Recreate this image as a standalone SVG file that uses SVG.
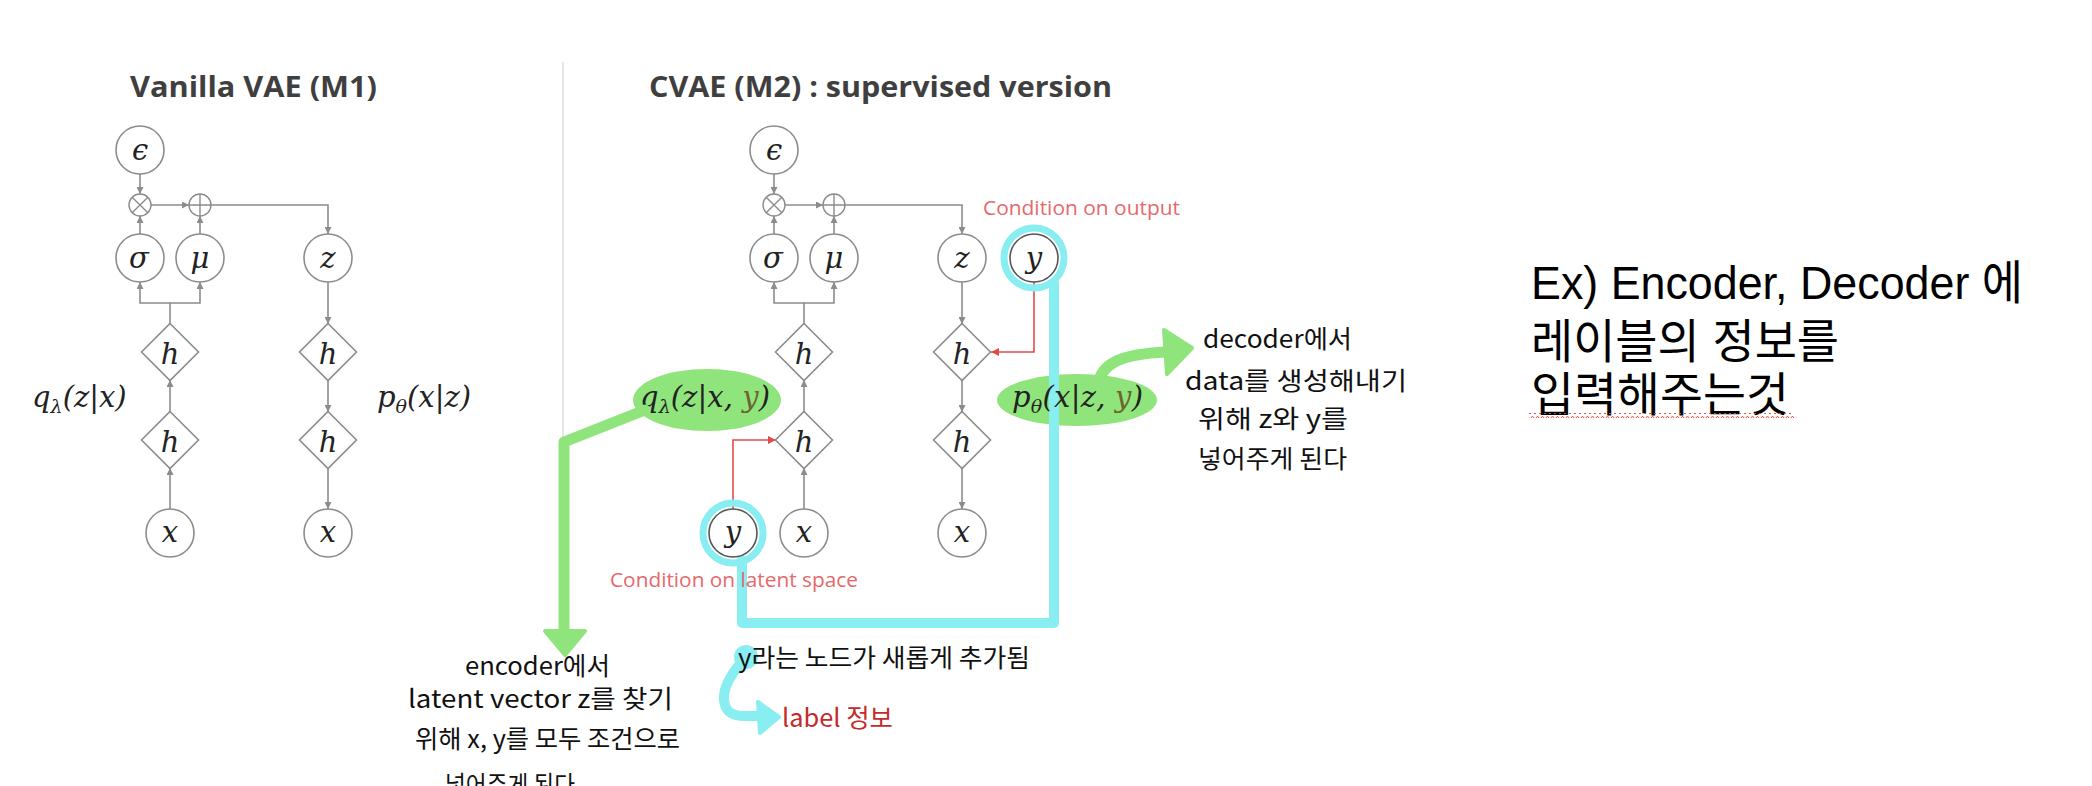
<svg xmlns="http://www.w3.org/2000/svg" width="2092" height="786" viewBox="0 0 2092 786">
<defs>
<style>
.node{fill:#fff;stroke:#8c8c8c;stroke-width:1.6}
.op{fill:#fff;stroke:#8c8c8c;stroke-width:1.4}
.opl{stroke:#8c8c8c;stroke-width:1.4}
.con{fill:none;stroke:#8c8c8c;stroke-width:1.6}
.red{fill:none;stroke:#e24b4b;stroke-width:1.6}
.lbl{font-family:"DejaVu Serif","Liberation Serif",serif;font-style:italic;font-size:29px;fill:#222;text-anchor:middle}
.math{font-family:"DejaVu Serif","Liberation Serif",serif;font-style:italic;font-size:29px;fill:#222}
.sub{font-size:19px}
.title{font-family:"Open Sans","Noto Sans",sans-serif;font-weight:bold;font-size:28px;fill:#3f3f3f}
.cond{font-family:"Open Sans","Noto Sans",sans-serif;font-size:20px;fill:#e5696b}
.hand{font-family:"Noto Sans CJK KR","Noto Sans",sans-serif;font-size:25px;fill:#111}
.big{font-family:"Liberation Sans","Noto Sans CJK KR",sans-serif;font-size:47px;fill:#000}
.cyan{fill:none;stroke:#88eef1;stroke-linecap:round;stroke-linejoin:round}
.green{fill:none;stroke:#8fe57c;stroke-linecap:round;stroke-linejoin:round}
</style>
<marker id="ag" viewBox="0 0 10 10" refX="10" refY="5" markerWidth="7" markerHeight="7" markerUnits="userSpaceOnUse" orient="auto"><path d="M0 0 L10 5 L0 10 z" fill="#8c8c8c"/></marker>
<marker id="ar" viewBox="0 0 10 10" refX="10" refY="5" markerWidth="8" markerHeight="8" markerUnits="userSpaceOnUse" orient="auto"><path d="M0 0 L10 5 L0 10 z" fill="#e24b4b"/></marker>
<pattern id="sq" width="5" height="5" patternUnits="userSpaceOnUse"><path d="M0 4 L2.5 1.2 L5 4" fill="none" stroke="#e0443a" stroke-width="1"/></pattern>
</defs>
<rect width="2092" height="786" fill="#fff"/>

<!-- divider -->
<line x1="563" y1="62" x2="563" y2="600" stroke="#dcdcdc" stroke-width="1.5"/>

<!-- titles -->
<text class="title" x="130" y="97" textLength="247" lengthAdjust="spacingAndGlyphs">Vanilla VAE (M1)</text>
<text class="title" x="649" y="97" textLength="463" lengthAdjust="spacingAndGlyphs">CVAE (M2) : supervised version</text>

<!-- highlights (behind) -->
<g id="highlights">
<ellipse cx="707" cy="400" rx="74" ry="31" fill="#8fe57c"/>
<ellipse cx="1077" cy="400" rx="80" ry="26" fill="#8fe57c"/>
</g>

<!-- connectors -->
<g id="connectors">
<path class="con" d="M140 174 V194" marker-end="url(#ag)"/>
<path class="con" d="M140 234 V216" marker-end="url(#ag)"/>
<path class="con" d="M200 234 V216" marker-end="url(#ag)"/>
<path class="con" d="M151 205 H189" marker-end="url(#ag)"/>
<path class="con" d="M211 205 H328 V234" marker-end="url(#ag)"/>
<path class="con" d="M170 324 V303 H140 V282" marker-end="url(#ag)"/>
<path class="con" d="M170 303 H200 V282" marker-end="url(#ag)"/>
<path class="con" d="M170 412 V380" marker-end="url(#ag)"/>
<path class="con" d="M170 509 V468" marker-end="url(#ag)"/>
<path class="con" d="M328 282 V324" marker-end="url(#ag)"/>
<path class="con" d="M328 380 V412" marker-end="url(#ag)"/>
<path class="con" d="M328 468 V509" marker-end="url(#ag)"/>
<path class="con" d="M774 174 V194" marker-end="url(#ag)"/>
<path class="con" d="M774 234 V216" marker-end="url(#ag)"/>
<path class="con" d="M834 234 V216" marker-end="url(#ag)"/>
<path class="con" d="M785 205 H823" marker-end="url(#ag)"/>
<path class="con" d="M845 205 H962 V234" marker-end="url(#ag)"/>
<path class="con" d="M804 324 V303 H774 V282" marker-end="url(#ag)"/>
<path class="con" d="M804 303 H834 V282" marker-end="url(#ag)"/>
<path class="con" d="M804 412 V380" marker-end="url(#ag)"/>
<path class="con" d="M804 509 V468" marker-end="url(#ag)"/>
<path class="con" d="M962 282 V324" marker-end="url(#ag)"/>
<path class="con" d="M962 380 V412" marker-end="url(#ag)"/>
<path class="con" d="M962 468 V509" marker-end="url(#ag)"/>
<path class="red" d="M1034 282 V352 H991" marker-end="url(#ar)"/>
<path class="red" d="M733 509 V440 H776" marker-end="url(#ar)"/>
</g>

<!-- vanilla nodes -->
<g id="v-eps"><circle class="node" cx="140" cy="150" r="24"/><text class="lbl" x="140" y="160">ϵ</text></g>
<g id="v-mul"><circle class="op" cx="140" cy="205" r="11"/><path class="opl" d="M132.2 197.2 L147.8 212.8 M147.8 197.2 L132.2 212.8"/></g>
<g id="v-add"><circle class="op" cx="200" cy="205" r="11"/><path class="opl" d="M189 205 H211 M200 194 V216"/></g>
<g id="v-sigma"><circle class="node" cx="140" cy="258" r="24"/><text class="lbl" x="139" y="268">σ</text></g>
<g id="v-mu"><circle class="node" cx="200" cy="258" r="24"/><text class="lbl" x="200" y="268">μ</text></g>
<g id="v-z"><circle class="node" cx="328" cy="258" r="24"/><text class="lbl" x="328" y="268">z</text></g>
<g id="v-h1"><path class="node" d="M170 323.5 L198.5 352 L170 380.5 L141.5 352 Z"/><text class="lbl" x="170" y="364">h</text></g>
<g id="v-h2"><path class="node" d="M170 411.5 L198.5 440 L170 468.5 L141.5 440 Z"/><text class="lbl" x="170" y="452">h</text></g>
<g id="v-x"><circle class="node" cx="170" cy="533" r="24"/><text class="lbl" x="170" y="542">x</text></g>
<g id="v-dh1"><path class="node" d="M328 323.5 L356.5 352 L328 380.5 L299.5 352 Z"/><text class="lbl" x="328" y="364">h</text></g>
<g id="v-dh2"><path class="node" d="M328 411.5 L356.5 440 L328 468.5 L299.5 440 Z"/><text class="lbl" x="328" y="452">h</text></g>
<g id="v-dx"><circle class="node" cx="328" cy="533" r="24"/><text class="lbl" x="328" y="542">x</text></g>
<g id="v-q"><text class="math" x="32" y="407">q<tspan class="sub" dy="6">λ</tspan><tspan dy="-6">(z|x)</tspan></text></g>
<g id="v-p"><text class="math" x="377" y="407">p<tspan class="sub" dy="6">θ</tspan><tspan dy="-6">(x|z)</tspan></text></g>

<!-- cyan annotation lines -->
<g id="cyan-annot">
<circle cx="1034" cy="258" r="30" fill="none" stroke="#88eef1" stroke-width="7"/>
<circle cx="733" cy="533" r="30" fill="none" stroke="#88eef1" stroke-width="7"/>
<path class="cyan" stroke-width="10" d="M1054 283 V623 H742 V560"/>
<circle cx="746" cy="657" r="12" fill="#88eef1"/>
<path class="cyan" stroke-width="10" d="M740 664 C730 676 723 688 724 700 C725 712 732 716 745 716 L762 716"/>
<path d="M758 702 L779 717 L760 733 Z" fill="#88eef1" stroke="#88eef1" stroke-width="4" stroke-linejoin="round"/>
</g>

<!-- cvae nodes -->
<g id="c-eps"><circle class="node" cx="774" cy="150" r="24"/><text class="lbl" x="774" y="160">ϵ</text></g>
<g id="c-mul"><circle class="op" cx="774" cy="205" r="11"/><path class="opl" d="M766.2 197.2 L781.8 212.8 M781.8 197.2 L766.2 212.8"/></g>
<g id="c-add"><circle class="op" cx="834" cy="205" r="11"/><path class="opl" d="M823 205 H845 M834 194 V216"/></g>
<g id="c-sigma"><circle class="node" cx="774" cy="258" r="24"/><text class="lbl" x="773" y="268">σ</text></g>
<g id="c-mu"><circle class="node" cx="834" cy="258" r="24"/><text class="lbl" x="834" y="268">μ</text></g>
<g id="c-z"><circle class="node" cx="962" cy="258" r="24"/><text class="lbl" x="962" y="268">z</text></g>
<g id="c-ytop"><circle class="node" cx="1034" cy="258" r="24" style="stroke:#555"/><text class="lbl" x="1034" y="268">y</text></g>
<g id="c-h1"><path class="node" d="M804 323.5 L832.5 352 L804 380.5 L775.5 352 Z"/><text class="lbl" x="804" y="364">h</text></g>
<g id="c-h2"><path class="node" d="M804 411.5 L832.5 440 L804 468.5 L775.5 440 Z"/><text class="lbl" x="804" y="452">h</text></g>
<g id="c-ybot"><circle class="node" cx="733" cy="533" r="24" style="stroke:#555"/><text class="lbl" x="733" y="542">y</text></g>
<g id="c-x"><circle class="node" cx="804" cy="533" r="24"/><text class="lbl" x="804" y="542">x</text></g>
<g id="c-dh1"><path class="node" d="M962 323.5 L990.5 352 L962 380.5 L933.5 352 Z"/><text class="lbl" x="962" y="364">h</text></g>
<g id="c-dh2"><path class="node" d="M962 411.5 L990.5 440 L962 468.5 L933.5 440 Z"/><text class="lbl" x="962" y="452">h</text></g>
<g id="c-dx"><circle class="node" cx="962" cy="533" r="24"/><text class="lbl" x="962" y="542">x</text></g>
<g id="c-q"><text class="math" x="640" y="407" textLength="130" lengthAdjust="spacing">q<tspan class="sub" dy="6">λ</tspan><tspan dy="-6">(z|x, </tspan><tspan fill="#6e6430">y</tspan>)</text></g>
<g id="c-p"><text class="math" x="1012" y="407" textLength="131" lengthAdjust="spacing">p<tspan class="sub" dy="6">θ</tspan><tspan dy="-6">(x|z, </tspan><tspan fill="#6e6430">y</tspan>)</text></g>

<text class="cond" x="983" y="215" textLength="197" lengthAdjust="spacingAndGlyphs">Condition on output</text>
<text class="cond" x="610" y="587" textLength="248" lengthAdjust="spacingAndGlyphs">Condition on latent space</text>

<!-- green annotation arrows -->
<g id="green-annot">
<path class="green" stroke-width="11" d="M645 410 L564 442 V630"/>
<path d="M545 631 L585 631 L565 655 Z" fill="#8fe57c" stroke="#8fe57c" stroke-width="4" stroke-linejoin="round"/>
<path class="green" stroke-width="11" d="M1098 386 C1100 364 1120 354 1166 352"/>
<path d="M1164 330 L1192 348 L1167 374 Z" fill="#8fe57c" stroke="#8fe57c" stroke-width="4" stroke-linejoin="round"/>
</g>

<!-- handwritten notes -->
<g id="note-encoder">
<text class="hand" x="465" y="675" textLength="145" lengthAdjust="spacingAndGlyphs">encoder에서</text>
<text class="hand" x="408" y="708" textLength="265" lengthAdjust="spacingAndGlyphs">latent vector z를 찾기</text>
<text class="hand" x="415" y="748" textLength="265" lengthAdjust="spacingAndGlyphs">위해  x, y를 모두 조건으로</text>
<text class="hand" x="445" y="794" textLength="130" lengthAdjust="spacingAndGlyphs">넣어주게 된다</text>
</g>
<g id="note-decoder">
<text class="hand" x="1203" y="348" textLength="149" lengthAdjust="spacingAndGlyphs">decoder에서</text>
<text class="hand" x="1185" y="390" textLength="222" lengthAdjust="spacingAndGlyphs">data를 생성해내기</text>
<text class="hand" x="1198" y="428" textLength="150" lengthAdjust="spacingAndGlyphs">위해 z와 y를</text>
<text class="hand" x="1198" y="468" textLength="149" lengthAdjust="spacingAndGlyphs">넣어주게 된다</text>
</g>
<g id="note-y">
<text class="hand" x="738" y="667" textLength="292" lengthAdjust="spacingAndGlyphs">y라는 노드가 새롭게 추가됨</text>
<text class="hand" x="782" y="727" textLength="111" lengthAdjust="spacingAndGlyphs" style="fill:#c42a2a">label 정보</text>
</g>

<!-- right text -->
<g id="note-right">
<text class="big" x="1531" y="299" textLength="492" lengthAdjust="spacingAndGlyphs">Ex) Encoder, Decoder 에</text>
<text class="big" x="1531" y="358" textLength="308" lengthAdjust="spacingAndGlyphs">레이블의 정보를</text>
<text class="big" x="1531" y="411" textLength="258" lengthAdjust="spacingAndGlyphs">입력해주는것</text>
<rect x="1529" y="413" width="265" height="5" fill="url(#sq)"/>
</g>
</svg>
